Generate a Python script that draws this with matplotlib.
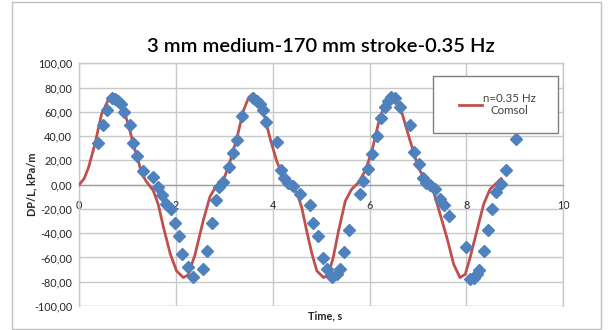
import matplotlib
matplotlib.use("Agg")
import matplotlib.pyplot as plt
from matplotlib.patches import Rectangle
from matplotlib.ticker import FuncFormatter

plt.rcParams['font.family'] = ['Lato', 'DejaVu Sans']

# Comsol simulation curve (n = 0.35 Hz)
comsol_t = [0, 0.1, 0.19, 0.32, 0.46, 0.6, 0.70, 0.78, 0.88, 1.01, 1.12, 1.22, 1.29, 1.38,
            1.53, 1.63, 1.74, 1.88, 2.01, 2.15, 2.25, 2.39, 2.56, 2.70, 2.81, 2.91, 3.01,
            3.12, 3.26, 3.39, 3.50, 3.59, 3.68, 3.81, 3.94, 4.08, 4.22, 4.36, 4.50, 4.60,
            4.70, 4.81, 4.91, 5.05, 5.15, 5.25, 5.36, 5.50, 5.63, 5.77, 5.91, 6.05, 6.18,
            6.30, 6.39, 6.46, 6.56, 6.70, 6.84, 7.01, 7.18, 7.32, 7.46, 7.60, 7.74, 7.87,
            7.98, 8.08, 8.22, 8.36, 8.49, 8.60, 8.72]
comsol_dp = [0, 5, 14, 33, 58, 70, 74.5, 73, 66, 50, 33, 19.5, 9, 3,
             -5, -16, -35, -57, -71, -76.5, -74.5, -58, -30, -10, -2.5, 1.5, 7,
             19.5, 38.7, 60.7, 71.7, 75, 71.7, 59.3, 38.7, 19.5, 5.8, -1, -6.6, -19,
             -38, -57, -71, -76.6, -73.8, -60, -38, -13.4, -3.8, 1.6, 11.3, 27.8, 49.8,
             65, 73, 75, 71.7, 55.2, 36, 14, 1.6, -5.2, -24.4, -43.7, -65.6, -76.6,
             -73.8, -60, -38, -16, -3.8, 0.3, 5]

# Experimental points
exp_t = [0.38, 0.50, 0.57, 0.67, 0.74, 0.81, 0.86, 0.93, 1.04, 1.12, 1.19, 1.31, 1.52, 1.62,
         1.70, 1.79, 1.89, 1.98, 2.06, 2.13, 2.24, 2.35, 2.55, 2.63, 2.74, 2.82, 2.88,
         2.97, 3.09, 3.18, 3.26, 3.37, 3.60, 3.67, 3.74, 3.79, 3.85, 4.09, 4.16, 4.23,
         4.32, 4.42, 4.56, 4.76, 4.84, 4.94, 5.03, 5.12, 5.22, 5.32, 5.39, 5.48, 5.58,
         5.80, 5.87, 5.97, 6.05, 6.15, 6.23, 6.31, 6.38, 6.45, 6.52, 6.63, 6.84, 6.92,
         7.02, 7.10, 7.16, 7.25, 7.36, 7.46, 7.55, 7.65, 8.00, 8.08, 8.15, 8.22, 8.27,
         8.37, 8.44, 8.54, 8.62, 8.72, 8.83, 9.03]
exp_dp = [34.5, 49.2, 61.5, 71.7, 70.5, 69, 66.8, 60.2, 49.5, 34.5, 23.5, 11.5, 6, -1.9,
          -8.5, -15.6, -20, -32, -42.5, -56.8, -67.8, -76, -69.7, -54.6, -31.3, -13, -2,
          2, 14.8, 26.4, 37, 56.6, 71.7, 69, 66.2, 61.3, 51.5, 35.3, 12, 5.8,
          1.6, -1.5, -7.4, -17, -31.6, -42.5, -60.7, -69.7, -76, -73.9, -69.7, -55.5, -37.3,
          -7.9, 3.3, 13, 25, 40, 54.6, 64.2, 69.3, 72, 71.7, 64, 49.5, 26.6,
          16.8, 5.8, 1.6, -0.5, -3.3, -12, -16.7, -25.8, -51.5, -78, -76.6, -73.3, -70.5,
          -54.6, -37.6, -20.3, -5.8, 0.3, 11.9, 37.4]

x_ticks = [0, 2, 4, 6, 8, 10]
y_ticks = [-100, -80, -60, -40, -20, 0, 20, 40, 60, 80, 100]

W, H = 609, 330
fig = plt.figure(figsize=(W / 100, H / 100), dpi=100)
fig.patch.set_facecolor('white')
fig.patches.append(Rectangle((12 / W, 1 / H), 589 / W, 327 / H, transform=fig.transFigure,
                             fill=False, edgecolor='#bfbfbf', linewidth=1.0))

ax = fig.add_axes([79.3 / W, 1 - 306 / H, (563 - 79.3) / W, (306 - 63.3) / H])
ax.set_xlim(0, 10)
ax.set_ylim(-100, 100)

grid_c = '#c8c8c8'
ax.set_yticks(y_ticks)
ax.set_xticks(x_ticks)
ax.grid(True, color=grid_c, linewidth=1.0)
ax.set_axisbelow(True)
for s in ['top', 'right', 'left']:
    ax.spines[s].set_color(grid_c)
    ax.spines[s].set_linewidth(1.0)
ax.spines['bottom'].set_position(('data', 0))
ax.spines['bottom'].set_color('#a0a0a0')
ax.spines['bottom'].set_linewidth(1.0)
ax.axhline(-100, color=grid_c, linewidth=1.0, zorder=0)

ax.yaxis.set_major_formatter(FuncFormatter(lambda v, p: f"{v:.2f}".replace('.', ',')))
ax.xaxis.set_major_formatter(FuncFormatter(lambda v, p: f"{v:g}"))
ax.tick_params(axis='both', length=0, labelsize=7.8, labelcolor='#262626')
ax.tick_params(axis='x', pad=11)
ax.tick_params(axis='y', pad=5)

line, = ax.plot(comsol_t, comsol_dp, color='#c0504d', linewidth=2.0, zorder=3,
                label='n=0.35 Hz\nComsol')
ax.plot(exp_t, exp_dp, linestyle='none', marker='D', markersize=6.3, color='#4f81bd',
        markeredgecolor='#4f81bd', zorder=4)

ax.set_title('3 mm medium-170 mm stroke-0.35 Hz', fontsize=14.5, pad=8, color='black',
             fontweight='semibold')
fig.text(32 / W, 1 - 184 / H, 'DP/L, kPa/m', rotation=90, ha='center', va='center',
         fontsize=7.8, fontweight='bold', color='#262626')
fig.text(325 / W, 1 - 316 / H, 'Time, s', ha='center', va='center',
         fontsize=7.8, fontweight='bold', color='#262626')

# legend box
ax.add_patch(Rectangle((0.732, 0.712), 0.258, 0.236, transform=ax.transAxes,
                       facecolor='white', edgecolor='#7f7f7f', linewidth=1.0, zorder=5))
leg = ax.legend(handles=[line], loc='center', bbox_to_anchor=(0.865, 0.83),
                frameon=False, fontsize=8.3, handlelength=2.0, handletextpad=0.1)
leg.set_zorder(6)
for t in leg.get_texts():
    t.set_multialignment('center')
    t.set_color('#404040')

fig.savefig('out.png', dpi=100)
